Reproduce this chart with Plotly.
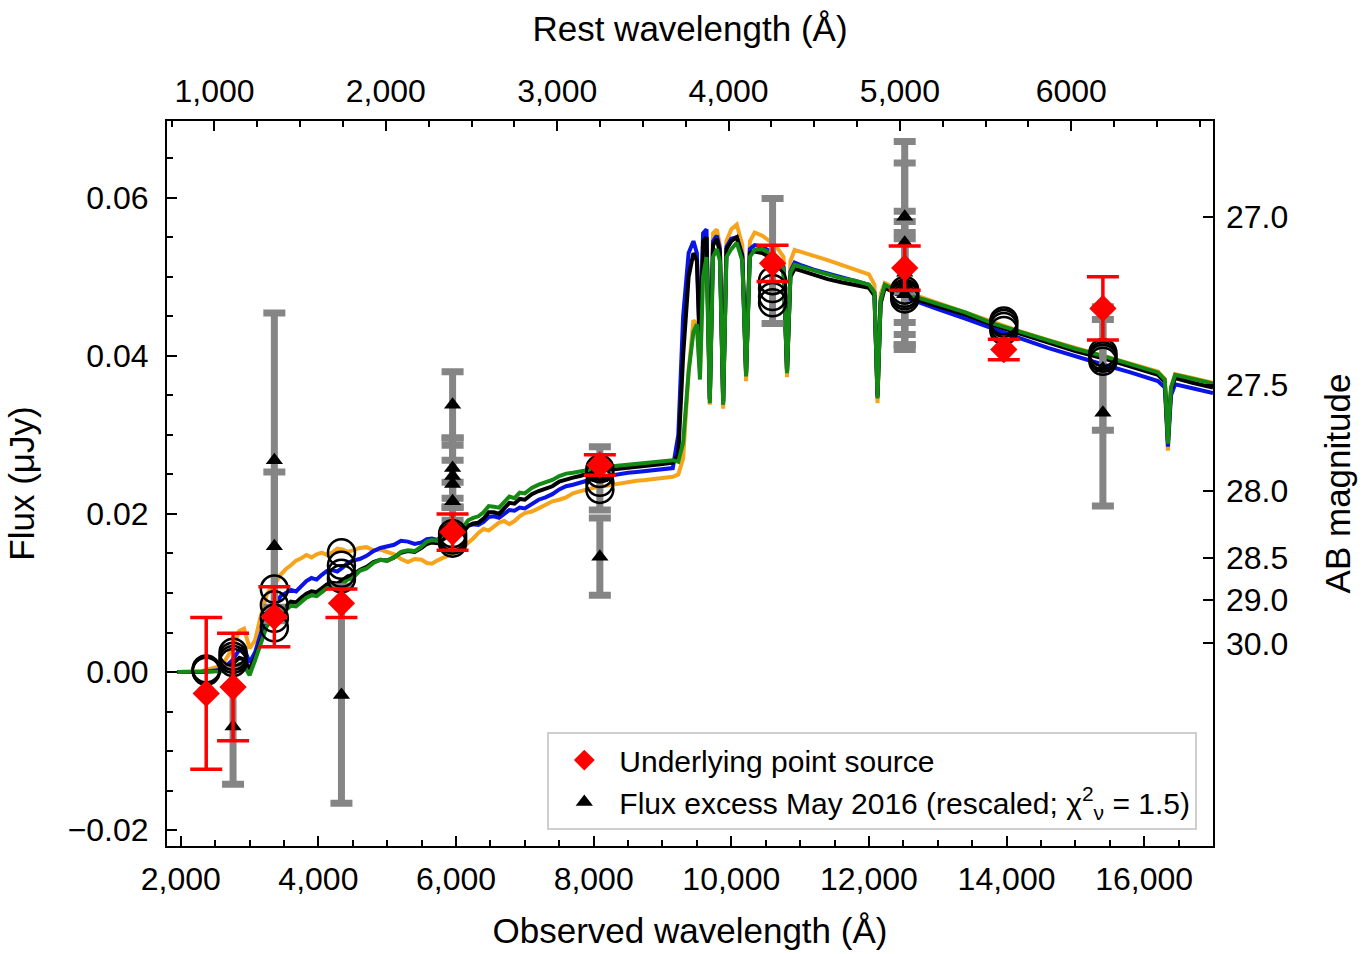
import plotly.graph_objects as go

# ---------------- data ----------------
# model spectra (observed wavelength, Angstrom) and flux (uJy) for four models
wl = [1950, 2300, 2600, 2750, 2850, 2920, 3000, 3080, 3160, 3250,
      3350, 3400, 3450, 3525, 3600, 3675, 3750, 3825, 3900, 3975,
      4050, 4125, 4200, 4275, 4350, 4425, 4500, 4600, 4700, 4800,
      4900, 5000, 5100, 5200, 5300, 5400, 5500, 5575, 5650, 5725,
      5800, 5875, 5950, 6025, 6100, 6175, 6250, 6325, 6400, 6475,
      6550, 6625, 6700, 6775, 6850, 6925, 7000, 7100, 7200, 7300,
      7400, 7500, 7600, 7700, 7800, 7900, 8000, 8125, 8250, 8375,
      8500, 8625, 8750, 8875, 9000,
      9150, 9230, 9300, 9380, 9450, 9500, 9545,
      9590, 9640, 9688, 9735, 9790, 9835, 9882, 9930, 10000, 10080,
      10160, 10215, 10270, 10340, 10450, 10560, 10680, 10760, 10810, 10860,
      10920, 11000, 11200, 11400, 11600, 11800, 12000, 12080, 12125, 12170,
      12230, 12400, 12700, 13000, 13400, 13800, 14200, 14600, 15000, 15400,
      15800, 16200, 16300, 16345, 16390, 16450, 16700, 17000]

flux_green = [0.0000, 0.0000, 0.0001, 0.0004, 0.0010, 0.0008, -0.0004, 0.0015, 0.0035, 0.0058,
              0.0068, 0.0066, 0.0073, 0.0078, 0.0084, 0.0083, 0.0089, 0.0094, 0.0097, 0.0096,
              0.0101, 0.0106, 0.0107, 0.0106, 0.0111, 0.0117, 0.0119, 0.0128, 0.0131, 0.0138,
              0.0142, 0.0141, 0.0145, 0.0152, 0.0154, 0.0153, 0.0159, 0.0165, 0.0167, 0.0166,
              0.0173, 0.0178, 0.0179, 0.0178, 0.0183, 0.0192, 0.0195, 0.0197, 0.0202, 0.0210,
              0.0209, 0.0208, 0.0215, 0.0222, 0.0220, 0.0227, 0.0226, 0.0233, 0.0237, 0.0240,
              0.0243, 0.0248, 0.0251, 0.0252, 0.0254, 0.0256, 0.0257, 0.0259, 0.0260, 0.0261,
              0.0262, 0.0263, 0.0264, 0.0265, 0.0266,
              0.0268, 0.0266, 0.0290, 0.0380, 0.0430, 0.0440, 0.0370,
              0.0500, 0.0525, 0.0340, 0.0525, 0.0535, 0.0520, 0.0338, 0.0525, 0.0535, 0.0543,
              0.0520, 0.0374, 0.0525, 0.0534, 0.0535, 0.0530, 0.0522, 0.0510, 0.0378, 0.0505,
              0.0515, 0.0513, 0.0507, 0.0503, 0.0498, 0.0495, 0.0490, 0.0480, 0.0346, 0.0470,
              0.0490, 0.0482, 0.0474, 0.0466, 0.0455, 0.0441, 0.0430, 0.0419, 0.0409, 0.0400,
              0.0390, 0.0379, 0.0370, 0.0289, 0.0360, 0.0376, 0.0371, 0.0365]

flux_black = [0.0000, 0.0000, 0.0002, 0.0010, 0.0018, 0.0016, 0.0004, 0.0018, 0.0038, 0.0060,
              0.0072, 0.0071, 0.0079, 0.0083, 0.0089, 0.0088, 0.0094, 0.0099, 0.0102, 0.0101,
              0.0106, 0.0111, 0.0113, 0.0112, 0.0116, 0.0121, 0.0123, 0.0129, 0.0133, 0.0139,
              0.0142, 0.0141, 0.0145, 0.0151, 0.0153, 0.0152, 0.0157, 0.0162, 0.0164, 0.0163,
              0.0167, 0.0172, 0.0173, 0.0172, 0.0176, 0.0185, 0.0188, 0.0189, 0.0194, 0.0202,
              0.0202, 0.0200, 0.0207, 0.0214, 0.0213, 0.0219, 0.0218, 0.0225, 0.0229, 0.0232,
              0.0235, 0.0241, 0.0244, 0.0246, 0.0248, 0.0251, 0.0253, 0.0255, 0.0256, 0.0258,
              0.0259, 0.0260, 0.0261, 0.0262, 0.0263,
              0.0265, 0.0275, 0.0400, 0.0500, 0.0530, 0.0520, 0.0400,
              0.0545, 0.0550, 0.0345, 0.0540, 0.0548, 0.0530, 0.0342, 0.0535, 0.0545, 0.0550,
              0.0525, 0.0378, 0.0530, 0.0532, 0.0530, 0.0525, 0.0515, 0.0505, 0.0380, 0.0500,
              0.0510, 0.0508, 0.0502, 0.0497, 0.0493, 0.0490, 0.0486, 0.0476, 0.0350, 0.0466,
              0.0486, 0.0479, 0.0471, 0.0463, 0.0452, 0.0439, 0.0428, 0.0417, 0.0406, 0.0397,
              0.0387, 0.0376, 0.0367, 0.0292, 0.0357, 0.0372, 0.0366, 0.0360]

flux_blue = [0.0000, 0.0000, 0.0003, 0.0015, 0.0028, 0.0030, 0.0012, 0.0025, 0.0048, 0.0075,
             0.0090, 0.0088, 0.0096, 0.0100, 0.0104, 0.0102, 0.0109, 0.0115, 0.0119, 0.0117,
             0.0123, 0.0128, 0.0129, 0.0127, 0.0132, 0.0138, 0.0141, 0.0143, 0.0147, 0.0153,
             0.0157, 0.0159, 0.0161, 0.0166, 0.0165, 0.0162, 0.0164, 0.0168, 0.0169, 0.0167,
             0.0171, 0.0175, 0.0177, 0.0176, 0.0179, 0.0185, 0.0187, 0.0186, 0.0190, 0.0196,
             0.0197, 0.0195, 0.0200, 0.0205, 0.0204, 0.0208, 0.0207, 0.0213, 0.0218, 0.0221,
             0.0225, 0.0231, 0.0235, 0.0237, 0.0239, 0.0242, 0.0245, 0.0247, 0.0249, 0.0251,
             0.0252, 0.0253, 0.0254, 0.0255, 0.0256,
             0.0258, 0.0300, 0.0450, 0.0530, 0.0545, 0.0530, 0.0410,
             0.0555, 0.0560, 0.0345, 0.0545, 0.0552, 0.0535, 0.0342, 0.0538, 0.0548, 0.0550,
             0.0528, 0.0378, 0.0535, 0.0540, 0.0538, 0.0532, 0.0523, 0.0512, 0.0380, 0.0507,
             0.0518, 0.0515, 0.0509, 0.0504, 0.0499, 0.0495, 0.0490, 0.0480, 0.0348, 0.0470,
             0.0488, 0.0478, 0.0468, 0.0459, 0.0447, 0.0434, 0.0422, 0.0410, 0.0399, 0.0389,
             0.0379, 0.0368, 0.0360, 0.0285, 0.0350, 0.0364, 0.0359, 0.0353]

flux_orange = [0.0000, 0.0001, 0.0008, 0.0030, 0.0052, 0.0055, 0.0030, 0.0040, 0.0070, 0.0098,
               0.0112, 0.0116, 0.0123, 0.0130, 0.0135, 0.0141, 0.0144, 0.0148, 0.0145, 0.0149,
               0.0151, 0.0148, 0.0151, 0.0156, 0.0155, 0.0152, 0.0154, 0.0157, 0.0158, 0.0154,
               0.0155, 0.0152, 0.0149, 0.0143, 0.0139, 0.0143, 0.0142, 0.0138, 0.0137, 0.0141,
               0.0144, 0.0146, 0.0149, 0.0153, 0.0158, 0.0163, 0.0169, 0.0176, 0.0181, 0.0179,
               0.0184, 0.0189, 0.0191, 0.0187, 0.0191, 0.0197, 0.0201, 0.0203, 0.0207, 0.0212,
               0.0216, 0.0218, 0.0221, 0.0226, 0.0229, 0.0231, 0.0233, 0.0235, 0.0237, 0.0238,
               0.0240, 0.0242, 0.0243, 0.0244, 0.0245,
               0.0247, 0.0250, 0.0270, 0.0380, 0.0445, 0.0440, 0.0380,
               0.0520, 0.0550, 0.0338, 0.0555, 0.0560, 0.0540, 0.0333, 0.0545, 0.0560, 0.0566,
               0.0540, 0.0368, 0.0545, 0.0556, 0.0552, 0.0545, 0.0535, 0.0525, 0.0373, 0.0520,
               0.0534, 0.0532, 0.0527, 0.0521, 0.0515, 0.0509, 0.0503, 0.0490, 0.0340, 0.0478,
               0.0492, 0.0485, 0.0476, 0.0467, 0.0455, 0.0442, 0.0431, 0.0420, 0.0410, 0.0401,
               0.0391, 0.0380, 0.0371, 0.0280, 0.0360, 0.0377, 0.0372, 0.0366]

# synthetic model photometry (open circles)
model_wl = [2370, 2370, 2370, 2370, 2760, 2760, 2760, 2760, 3360, 3360, 3360, 3360,
            4335, 4335, 4335, 4335, 5950, 5950, 5950, 5950, 8090, 8090, 8090, 8090,
            10600, 10600, 10600, 10600, 12520, 12520, 12520, 12520,
            13960, 13960, 13960, 13960, 15400, 15400, 15400, 15400]
model_flux = [0.0001, 0.0002, 0.0003, 0.0004, 0.0012, 0.0016, 0.0020, 0.0025,
              0.0056, 0.0068, 0.0085, 0.0105, 0.0118, 0.0125, 0.0135, 0.0151,
              0.0163, 0.0167, 0.0171, 0.0175, 0.0231, 0.0240, 0.0251, 0.0257,
              0.0467, 0.0475, 0.0485, 0.0495, 0.0472, 0.0476, 0.0479, 0.0483,
              0.0432, 0.0437, 0.0441, 0.0444, 0.0393, 0.0397, 0.0400, 0.0404]

# underlying point source (red diamonds)
ps_wl = [2370, 2760, 3360, 4335, 5950, 8090, 10600, 12520, 13960, 15400]
ps_flux = [-0.0027, -0.0019, 0.0070, 0.0087, 0.0177, 0.0262, 0.0517, 0.0511, 0.0408, 0.0460]
ps_err = [0.0096, 0.0068, 0.0038, 0.0018, 0.0023, 0.0013, 0.0023, 0.0028, 0.0013, 0.0040]

# flux excess May 2016 (black triangles, grey error bars)
ex_wl = [2760, 3360, 3360, 4335, 5950, 5950, 5950, 5950, 5950, 8090, 8090, 10600,
         12520, 12520, 12520, 12520, 12520, 12520, 15400, 15400]
ex_flux = [-0.0069, 0.0268, 0.0159, -0.0029, 0.0338, 0.0258, 0.0248, 0.0238, 0.0216,
           0.0146, 0.0245, 0.0520, 0.0576, 0.0543, 0.0505, 0.0492, 0.0485, 0.0478,
           0.0384, 0.0328]
ex_err = [0.0073, 0.0186, 0.0094, 0.0137, 0.0042, 0.0038, 0.0039, 0.0030, 0.0024,
          0.0049, 0.0040, 0.0079, 0.0095, 0.0101, 0.0078, 0.0078, 0.0071, 0.0070,
          0.0078, 0.0118]

# axes
obs_range = [1800, 17000]
flux_range = [-0.022, 0.0697]
one_plus_z = 2.49
rest_ticks = [1000, 2000, 3000, 4000, 5000, 6000]
rest_labels = ["1,000", "2,000", "3,000", "4,000", "5,000", "6000"]
obs_ticks = [2000, 4000, 6000, 8000, 10000, 12000, 14000, 16000]
obs_labels = ["2,000", "4,000", "6,000", "8,000", "10,000", "12,000", "14,000", "16,000"]
flux_ticks = [-0.02, 0.0, 0.02, 0.04, 0.06]
flux_labels = ["\u22120.02", "0.00", "0.02", "0.04", "0.06"]
ab_mags = [27.0, 27.5, 28.0, 28.5, 29.0, 30.0]
ab_labels = ["27.0", "27.5", "28.0", "28.5", "29.0", "30.0"]

# ---------------- figure ----------------
FONT = "Liberation Sans, Arial, Helvetica, sans-serif"
fig = go.Figure()

for flux, col in [(flux_orange, "#F5A41C"), (flux_blue, "#0A14E6"),
                  (flux_black, "#000000"), (flux_green, "#138A13")]:
    fig.add_trace(go.Scatter(x=wl, y=flux, mode="lines",
                             line=dict(color=col, width=4),
                             showlegend=False, hoverinfo="skip"))

fig.add_trace(go.Scatter(
    x=ex_wl, y=ex_flux, mode="markers",
    name="Flux excess May 2016 (rescaled; \u03c7<sup>2</sup><sub>\u03bd</sub> = 1.5)",
    marker=dict(symbol="triangle-up", size=15, color="black"),
    error_y=dict(type="data", array=ex_err, visible=True, color="#858585",
                 thickness=7, width=11)))

fig.add_trace(go.Scatter(
    x=model_wl, y=model_flux, mode="markers", showlegend=False, hoverinfo="skip",
    marker=dict(symbol="circle-open", size=27, color="black", line=dict(width=2.5))))

fig.add_trace(go.Scatter(
    x=ps_wl, y=ps_flux, mode="markers", name="Underlying point source",
    marker=dict(symbol="diamond", size=21, color="#FF0000"),
    error_y=dict(type="data", array=ps_err, visible=True, color="#FF0000",
                 thickness=3.5, width=16)))

# helper traces for top and right axes
rest_range = [obs_range[0] / one_plus_z, obs_range[1] / one_plus_z]
fig.add_trace(go.Scatter(x=rest_ticks, y=[None] * len(rest_ticks), xaxis="x2",
                         mode="markers", showlegend=False, hoverinfo="skip"))
ab_flux = [10 ** ((23.9 - m) / 2.5) for m in ab_mags]
fig.add_trace(go.Scatter(x=[None] * len(ab_flux), y=ab_flux, yaxis="y2",
                         mode="markers", showlegend=False, hoverinfo="skip"))

tickfont = dict(family=FONT, size=32, color="black")
titlefont = dict(family=FONT, size=35, color="black")

fig.update_layout(
    width=1365, height=954,
    margin=dict(l=167, r=152, t=121, b=108),
    paper_bgcolor="white", plot_bgcolor="white",
    font=dict(family=FONT, color="black"),
    xaxis=dict(range=obs_range, tickmode="array", tickvals=obs_ticks, ticktext=obs_labels,
               ticks="inside", ticklen=10, tickwidth=2, tickcolor="black",
               minor=dict(tickmode="linear", tick0=0, dtick=500, ticks="inside",
                          ticklen=6, tickwidth=1.5, tickcolor="black"),
               showline=True, linecolor="black", linewidth=2, mirror=True,
               showgrid=False, zeroline=False, tickfont=tickfont, ticklabelstandoff=4,
               title=dict(text="Observed wavelength (\u00c5)", font=titlefont, standoff=22),
               automargin=False),
    xaxis2=dict(range=rest_range, overlaying="x", side="top", anchor="y",
                tickmode="array", tickvals=rest_ticks, ticktext=rest_labels,
                ticks="inside", ticklen=10, tickwidth=2, tickcolor="black",
                minor=dict(tickmode="linear", tick0=0, dtick=250, ticks="inside",
                           ticklen=6, tickwidth=1.5, tickcolor="black"),
                showline=False, showgrid=False, zeroline=False, tickfont=tickfont,
                ticklabelstandoff=12,
                title=dict(text="Rest wavelength (\u00c5)", font=titlefont, standoff=20),
                automargin=False),
    yaxis=dict(range=flux_range, tickmode="array", tickvals=flux_ticks, ticktext=flux_labels,
               ticks="inside", ticklen=10, tickwidth=2, tickcolor="black",
               minor=dict(tickmode="linear", tick0=0, dtick=0.005, ticks="inside",
                          ticklen=6, tickwidth=1.5, tickcolor="black"),
               showline=True, linecolor="black", linewidth=2, mirror=True,
               showgrid=False, zeroline=False, tickfont=tickfont, ticklabelstandoff=10,
               title=dict(text="Flux (\u03bcJy)", font=titlefont, standoff=22),
               automargin=False),
    yaxis2=dict(range=flux_range, overlaying="y", side="right", anchor="x",
                tickmode="array", tickvals=ab_flux, ticktext=ab_labels,
                ticks="inside", ticklen=10, tickwidth=2, tickcolor="black",
                showline=False, showgrid=False, zeroline=False, tickfont=tickfont,
                ticklabelstandoff=12,
                title=dict(text="AB magnitude", font=titlefont, standoff=38),
                automargin=False),
    legend=dict(x=0.985, y=0.022, xanchor="right", yanchor="bottom",
                bgcolor="white", bordercolor="#cfcfcf", borderwidth=2,
                font=dict(family=FONT, size=30, color="black"),
                traceorder="reversed", itemsizing="trace", itemwidth=60),
    showlegend=True,
)

fig.write_html("out.html")
